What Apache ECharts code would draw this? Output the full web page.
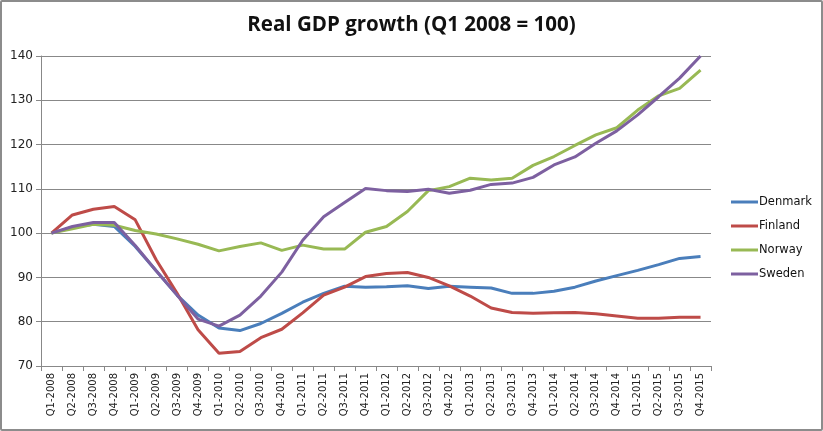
<!DOCTYPE html>
<html>
<head>
	<meta charset="utf-8">
	<title>Real GDP growth</title>
	<script src="https://cdn.jsdelivr.net/npm/echarts@6/dist/echarts.min.js"></script>
	<style>
		html, body { margin: 0; padding: 0; background: #fff; }
		#main { width: 819px; height: 427px; border: 2px solid #8c8c8c; border-radius: 2px; }
	</style>
</head>
<body>
	<div id="main"></div>
	<script type="text/javascript">
		// quarters Q1-2008 .. Q4-2015
		var quarters = [];
		for (var y = 2008; y <= 2015; y++) {
			for (var q = 1; q <= 4; q++) {
				quarters.push('Q' + q + '-' + y);
			}
		}

		var denmark = [100, 101.3, 102.0, 101.5, 97.0, 91.5, 86.0, 81.5, 78.6, 78.0, 79.6, 81.9,
			84.4, 86.4, 88.0, 87.8, 87.9, 88.1, 87.5, 88.0, 87.8, 87.6, 86.4, 86.4,
			86.9, 87.8, 89.2, 90.4, 91.6, 92.9, 94.3, 94.7];
		var finland = [100, 104.1, 105.4, 106.0, 103.0, 94.0, 86.4, 78.2, 72.9, 73.3, 76.4, 78.3,
			82.0, 86.0, 87.8, 90.2, 90.9, 91.1, 90.0, 88.1, 85.8, 83.1, 82.1, 81.9,
			82.0, 82.1, 81.8, 81.3, 80.8, 80.8, 81.0, 81.0];
		var norway = [100, 101.0, 102.0, 101.8, 100.6, 99.8, 98.7, 97.5, 96.0, 97.0, 97.8, 96.1,
			97.3, 96.4, 96.4, 100.2, 101.5, 104.9, 109.6, 110.5, 112.4, 112.0, 112.4, 115.3,
			117.3, 119.8, 122.2, 123.8, 127.8, 131.0, 132.7, 136.8];
		var sweden = [100, 101.5, 102.4, 102.4, 97.2, 91.5, 86.0, 80.6, 79.0, 81.5, 85.8, 91.2,
			98.4, 103.7, 106.9, 110.1, 109.6, 109.4, 109.9, 109.0, 109.7, 111.0, 111.3, 112.6,
			115.4, 117.2, 120.3, 123.1, 126.7, 130.8, 135.0, 140.0];

		var countries = ['Denmark', 'Finland', 'Norway', 'Sweden'];
		var values = [denmark, finland, norway, sweden];
		var colors = ['#4a7ebb', '#be4b48', '#98b954', '#7d60a0'];

		var myChart = echarts.init(document.getElementById('main'));

		var option = {
			animation: false,
			color: colors,
			title: {
				text: 'Real GDP growth (Q1 2008 = 100)',
				left: 'center',
				top: 8,
				textStyle: {
					fontFamily: 'Open Sans',
					fontWeight: 'bold',
					fontSize: 20.5,
					color: '#111'
				}
			},
			legend: {
				orient: 'vertical',
				left: 729,
				top: 193,
				padding: 0,
				itemWidth: 27,
				itemHeight: 3,
				itemGap: 10,
				icon: 'rect',
				textStyle: {
					fontFamily: 'DejaVu Sans',
					fontSize: 11.5,
					lineHeight: 14,
					color: '#111',
					padding: [0, 0, 0, -4]
				},
				data: countries
			},
			grid: {
				left: 39,
				right: 110,
				top: 54,
				bottom: 63
			},
			xAxis: {
				type: 'category',
				data: quarters,
				boundaryGap: true,
				axisLine: { lineStyle: { color: '#888', width: 1 } },
				axisTick: { show: true, length: 5, interval: 0, lineStyle: { color: '#888' } },
				axisLabel: {
					interval: 0,
					rotate: 90,
					fontFamily: 'DejaVu Sans',
					fontSize: 10,
					color: '#222',
					margin: 7
				}
			},
			yAxis: {
				type: 'value',
				min: 70,
				max: 140,
				interval: 10,
				axisLine: { show: true, lineStyle: { color: '#888', width: 1 } },
				axisTick: { show: true, length: 5, lineStyle: { color: '#888' } },
				splitLine: { lineStyle: { color: '#888', width: 1 } },
				axisLabel: {
					fontFamily: 'DejaVu Sans',
					fontSize: 12,
					color: '#222',
					margin: 8
				}
			},
			series: countries.map(function (name, i) {
				return {
					name: name,
					type: 'line',
					data: values[i],
					symbol: 'none',
					smooth: false,
					lineStyle: { width: 3, color: colors[i] }
				};
			})
		};

		myChart.setOption(option);
	</script>
</body>
</html>
